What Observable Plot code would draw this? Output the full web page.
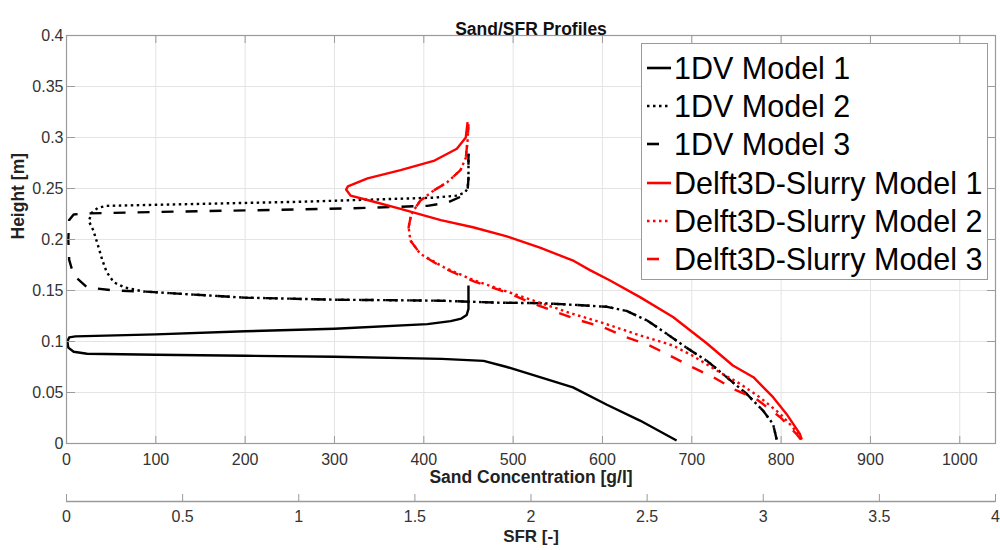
<!DOCTYPE html>
<html>
<head>
<meta charset="utf-8">
<script src="https://cdn.jsdelivr.net/npm/d3@7"></script>
<script src="https://cdn.jsdelivr.net/npm/@observablehq/plot@0.6"></script>
<style>
  body { margin: 0; background: #fff; font-family: "Liberation Sans", Arial, sans-serif; }
  #wrap { position: relative; width: 1000px; height: 550px; overflow: hidden; }
  #legend { position: absolute; left: 641px; top: 43px; width: 345px; height: 235px;
            border: 1px solid #9a9a9a; background: #fff; }
  .row { position: absolute; left: 0; height: 38px; display: flex; align-items: center;
         font-size: 30.5px; color: #000; white-space: nowrap; }
  .row svg { margin-left: 5px; margin-right: 3px; }
</style>
</head>
<body>
<div id="wrap"><div id="chart"></div><div id="legend"></div></div>
<script>
// ---------------- data (sand concentration [g/l], height [m]) ----------------
const seriesNames = ["1DV Model 1", "1DV Model 2", "1DV Model 3",
  "Delft3D-Slurry Model 1", "Delft3D-Slurry Model 2", "Delft3D-Slurry Model 3"];

const dv1 = [[683,0.003],[642,0.0225],[605,0.038],[567,0.055],[530,0.065],[493,0.075],[467,0.081],
  [420,0.083],[300,0.085],[200,0.086],[100,0.087],[23,0.088],[8,0.090],[2,0.094],[1,0.100],[3,0.104],
  [10,0.105],[100,0.107],[200,0.110],[300,0.1125],[404,0.117],[430,0.120],[442,0.1225],[448,0.126],
  [450,0.132],[450,0.155]];

const dv2 = [[795,0.004],[791,0.019],[780,0.032],[761,0.049],[739,0.065],[717,0.081],[694,0.094],
  [672,0.1075],[650,0.1206],[627,0.130],[605,0.134],[567,0.136],[530,0.1376],[486,0.138],[418,0.140],
  [300,0.141],[200,0.143],[142,0.146],[86,0.149],[65,0.153],[53,0.158],[45,0.168],[40,0.180],
  [35,0.195],[30,0.209],[25,0.218],[28,0.226],[35,0.231],[45,0.233],[100,0.234],[262,0.237],
  [337,0.239],[411,0.241],[437,0.243],[446,0.246],[449,0.250],[450,0.260],[450,0.284]];

const dv3 = [[795,0.004],[791,0.019],[780,0.032],[761,0.049],[739,0.065],[717,0.081],[694,0.094],
  [672,0.1075],[650,0.1206],[627,0.130],[605,0.134],[567,0.136],[530,0.1376],[486,0.138],[418,0.140],
  [300,0.141],[200,0.143],[142,0.146],[86,0.149],[53,0.150],[23,0.153],[8,0.165],[3,0.180],[2,0.200],
  [3,0.219],[8,0.2245],[20,0.2255],[100,0.227],[232,0.229],[337,0.231],[404,0.233],[426,0.236],
  [444,0.243],[449,0.248],[450,0.260],[450,0.284]];

const d3m1 = [[823,0.004],[821,0.0095],[806,0.029],[791,0.0454],[769,0.065],[746,0.0765],[717,0.098],
  [679,0.124],[642,0.1435],[608,0.160],[586,0.170],[568,0.179],[530,0.192],[493,0.203],[455,0.212],
  [419,0.219],[374,0.230],[340,0.238],[318,0.243],[313,0.249],[315,0.252],[337,0.260],[374,0.268],
  [411,0.277],[437,0.289],[447,0.300],[449,0.315]];

const d3m2 = [[823,0.004],[813,0.016],[799,0.029],[776,0.0454],[754,0.0585],[728,0.0716],[701,0.086],
  [679,0.096],[642,0.106],[601,0.118],[567,0.127],[530,0.138],[493,0.149],[456,0.160],[422,0.173],
  [396,0.186],[385,0.199],[383,0.212],[386,0.225],[396,0.238],[411,0.248],[426,0.256],[441,0.268],
  [447,0.280],[449,0.297],[450,0.313]];

const d3m3 = [[822,0.004],[817,0.0095],[799,0.0258],[772,0.0438],[750,0.052],[724,0.065],[700,0.075],
  [676,0.086],[653,0.096],[627,0.104],[601,0.114],[575,0.1206],[549,0.1287],[520,0.138],[493,0.148],
  [456,0.159],[422,0.172],[396,0.186],[385,0.199],[383,0.212],[386,0.225],[396,0.238],[411,0.248],
  [426,0.256],[441,0.268],[447,0.280],[449,0.297],[450,0.313]];

const xTicks = [0,100,200,300,400,500,600,700,800,900,1000];
const xTickLabels = ["0","100","200","300","400","500","600","700","800","900","1000"];
const yTicks = [0,0.05,0.1,0.15,0.2,0.25,0.3,0.35,0.4];
const yTickLabels = ["0","0.05","0.1","0.15","0.2","0.25","0.3","0.35","0.4"];
const sfrTicks = [0,0.5,1,1.5,2,2.5,3,3.5,4];
const sfrTickLabels = ["0","0.5","1","1.5","2","2.5","3","3.5","4"];
const sfrPerConc = 4 / 1040; // SFR axis spans the same width as 0..1040 g/l

// ---------------- styles ----------------
const styles = [
  {stroke: "#000000", dash: null},
  {stroke: "#000000", dash: "2.5,3.5"},
  {stroke: "#000000", dash: "12,12"},
  {stroke: "#ff0000", dash: null},
  {stroke: "#ff0000", dash: "2.5,3.5"},
  {stroke: "#ff0000", dash: "12,12"}
];
const allSeries = [dv1, dv2, dv3, d3m1, d3m2, d3m3];
const table = allSeries.map((s, k) => s.map(([c, h]) => ({conc: c, height: h, name: seriesNames[k]})));

const W = 1000, H = 550, mt = 35, mb = 107, ml = 66, mr = 5;
const frameH = H - mt - mb, frameW = W - ml - mr;
const sfrOffset = 58;
const axisGray = "#9a9a9a", textGray = "#333333", gridGray = "#e4e4e4";
const xLab = new Map(xTicks.map((t, i) => [t, xTickLabels[i]]));
const yLab = new Map(yTicks.map((t, i) => [t, yTickLabels[i]]));
const sfrPos = sfrTicks.map(s => s / sfrPerConc);
const sfrLab = new Map(sfrPos.map((p, i) => [p, sfrTickLabels[i]]));
const blank = () => "";

const lineMarks = table.map((rows, k) => Plot.line(rows, {
  x: "conc", y: "height", stroke: styles[k].stroke, strokeWidth: 2.4,
  strokeDasharray: styles[k].dash, strokeLinecap: "butt", strokeLinejoin: "round"
}));

const chart = Plot.plot({
  width: W, height: H,
  marginTop: mt, marginBottom: mb, marginLeft: ml, marginRight: mr,
  style: {fontFamily: "Liberation Sans, Arial, sans-serif", background: "#fff", overflow: "visible"},
  x: {domain: [0, 1040]},
  y: {domain: [0, 0.4]},
  marks: [
    Plot.gridX(xTicks, {stroke: gridGray, strokeOpacity: 1}),
    Plot.gridY(yTicks, {stroke: gridGray, strokeOpacity: 1}),
    ...lineMarks,
    Plot.frame({stroke: axisGray, strokeWidth: 1.2}),
    // inward ticks on all four sides
    Plot.axisX(xTicks, {anchor: "top", dy: frameH, tickSize: 8, tickFormat: blank, stroke: axisGray, label: null}),
    Plot.axisX(xTicks, {anchor: "bottom", dy: -frameH, tickSize: 8, tickFormat: blank, stroke: axisGray, label: null}),
    Plot.axisY(yTicks, {anchor: "right", dx: -frameW, tickSize: 8, tickFormat: blank, stroke: axisGray, label: null}),
    Plot.axisY(yTicks, {anchor: "left", dx: frameW, tickSize: 8, tickFormat: blank, stroke: axisGray, label: null}),
    // tick labels
    Plot.axisX(xTicks, {anchor: "bottom", tickSize: 0, tickPadding: 10, fontSize: 16, fill: textGray,
      tickFormat: d => xLab.get(d), label: null}),
    Plot.axisY(yTicks, {anchor: "left", tickSize: 0, tickPadding: 3, fontSize: 16, fill: textGray,
      tickFormat: d => yLab.get(d), label: null}),
    // secondary SFR axis
    Plot.ruleY([0], {dy: sfrOffset, stroke: axisGray, strokeWidth: 1.5}),
    Plot.axisX(sfrPos, {anchor: "top", dy: frameH + sfrOffset, tickSize: 8, tickFormat: blank, stroke: axisGray, label: null}),
    Plot.axisX(sfrPos, {anchor: "bottom", dy: sfrOffset, tickSize: 0, tickPadding: 9, fontSize: 16, fill: textGray,
      tickFormat: d => sfrLab.get(d), label: null}),
    // titles
    Plot.text(["Sand/SFR Profiles"], {text: d => d, frameAnchor: "top", dy: -13, fontSize: 17.5, fontWeight: "bold", fill: "#111"}),
    Plot.text(["Sand Concentration [g/l]"], {text: d => d, frameAnchor: "bottom", dy: 39, fontSize: 17.5, fontWeight: "bold", fill: "#222"}),
    Plot.text(["SFR [-]"], {text: d => d, frameAnchor: "bottom", dy: 98, fontSize: 17, fontWeight: "bold", fill: "#222"}),
    Plot.text(["Height [m]"], {text: d => d, frameAnchor: "left", dx: -48, rotate: -90, fontSize: 17.5, fontWeight: "bold", fill: "#222"})
  ]
});
document.getElementById("chart").append(chart);

// ---------------- legend ----------------
const legend = document.getElementById("legend");
const rowCenters = [24, 62, 100, 139, 177, 215];
seriesNames.forEach((name, k) => {
  const row = document.createElement("div");
  row.className = "row";
  row.style.top = (rowCenters[k] - 19) + "px";
  const st = styles[k];
  row.innerHTML = `<svg width="24" height="10"><line x1="0" y1="5" x2="24" y2="5" stroke="${st.stroke}" stroke-width="2.6" ${st.dash ? `stroke-dasharray="${st.dash}"` : ""}/></svg><span>${name}</span>`;
  legend.append(row);
});
</script>
</body>
</html>
